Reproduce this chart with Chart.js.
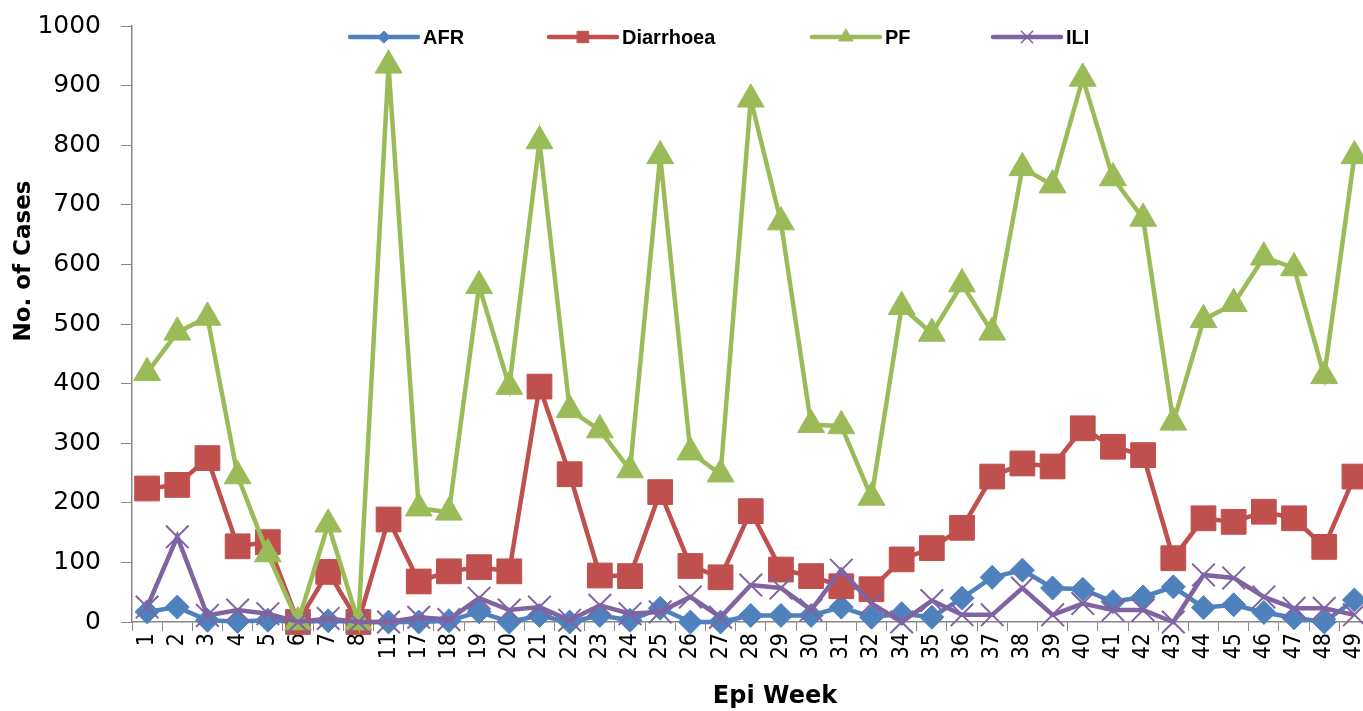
<!DOCTYPE html>
<html>
<head>
<meta charset="utf-8">
<title>Epi Week cases</title>
<script src="https://cdn.jsdelivr.net/npm/chart.js@4.4.0/dist/chart.umd.min.js"></script>
<style>
  html, body { margin: 0; padding: 0; background: #fff; overflow: hidden; }
  #wrap { position: absolute; left: 0; top: 0; width: 1388px; height: 711px; }
</style>
</head>
<body>
<div id="wrap"><canvas id="chart" width="1388" height="711"></canvas></div>
<script>
// Epi weeks shown on the x axis (some weeks are missing in the source)
const weeks = ['1', '2', '3', '4', '5', '6', '7', '8', '11', '17', '18', '19', '20', '21', '22', '23', '24', '25', '26', '27', '28',
  '29', '30', '31', '32', '34', '35', '36', '37', '38', '39', '40', '41', '42', '43', '44', '45', '46', '47', '48', '49'];

const afr = [17, 25, 3, 1, 3, 0, 2, 0, 0, 0, 2, 17, 0, 11, 0, 11, 3, 23, 0, 0, 11,
  11, 11, 25, 8, 14, 8, 40, 75, 87, 57, 55, 34, 42, 59, 24, 29, 16, 7, 0, 37];
const diarrhoea = [224, 230, 275, 127, 134, 0, 84, 0, 172, 68, 85, 92, 85, 395, 248, 78, 77, 218, 94, 75, 186,
  88, 77, 60, 55, 105, 124, 158, 244, 266, 261, 325, 294, 280, 107, 174, 168, 185, 174, 126, 244];
const pf = [418, 486, 511, 245, 114, 0, 164, 0, 934, 191, 184, 564, 395, 807, 356, 322, 255, 782, 285, 248, 877,
  671, 331, 329, 209, 529, 484, 567, 486, 762, 733, 912, 745, 677, 335, 507, 534, 612, 594, 413, 782];
const ili = [25, 143, 11, 20, 14, 0, 6, 0, 0, 8, 4, 40, 20, 25, 3, 28, 14, 17, 42, 8, 62,
  57, 20, 87, 31, 0, 36, 12, 12, 57, 12, 31, 20, 20, 0, 79, 74, 42, 23, 23, 12];

const yTickValues = [0, 100, 200, 300, 400, 500, 600, 700, 800, 900, 1000];

const AXIS_GREY = '#868686';

// small legend markers, Excel style (line with marker in the middle)
const legendMarkers = { AFR: 6, Diarrhoea: 8, PF: 8, ILI: 8 };
const legendStarts = [350, 549, 812, 993];

const excelDecor = {
  id: 'excelDecor',
  afterDraw(chart) {
    const ctx = chart.ctx;
    ctx.save();

    // legend, overlaid at the top of the plot
    const ly = 37;
    ctx.font = 'bold 20px "Liberation Sans"';
    ctx.textBaseline = 'middle';
    ctx.textAlign = 'left';
    chart.data.datasets.forEach((ds, i) => {
      const x0 = legendStarts[i];
      ctx.strokeStyle = ds.borderColor;
      ctx.lineWidth = 4.5;
      ctx.lineCap = 'round';
      ctx.beginPath();
      ctx.moveTo(x0, ly);
      ctx.lineTo(x0 + 68, ly);
      ctx.stroke();

      ctx.fillStyle = ds.pointBackgroundColor;
      ctx.strokeStyle = ds.pointBorderColor;
      ctx.lineWidth = ds.pointStyle === 'crossRot' ? 1.5 : 1;
      Chart.helpers.drawPoint(ctx, {
        pointStyle: ds.pointStyle,
        radius: legendMarkers[ds.label],
        rotation: 0,
        borderWidth: 1
      }, x0 + 34, ly);

      ctx.fillStyle = '#000';
      ctx.fillText(ds.label, x0 + 73, ly + 1);
    });

    // axis titles
    ctx.fillStyle = '#000';
    ctx.textAlign = 'center';
    ctx.font = 'bold 24px "DejaVu Sans"';
    ctx.fillText('Epi Week', 775, 697);

    ctx.translate(24, 261);
    ctx.rotate(-Math.PI / 2);
    ctx.font = 'bold 23px "DejaVu Sans"';
    ctx.fillText('No. of Cases', 0, 0);

    ctx.restore();
  }
};

function series(label, data, color, style, radius, order) {
  return {
    label: label,
    data: data,
    borderColor: color,
    backgroundColor: color,
    pointBackgroundColor: color,
    pointBorderColor: color,
    pointStyle: style,
    pointRadius: radius,
    pointHoverRadius: radius,
    pointBorderWidth: style === 'crossRot' ? 2 : 1,
    borderWidth: 4.5,
    tension: 0,
    fill: false,
    clip: false,
    order: order // later series in Excel sit on top
  };
}

const ctx = document.getElementById('chart').getContext('2d');

new Chart(ctx, {
  type: 'line',
  data: {
    labels: weeks,
    datasets: [
      series('AFR', afr, '#4F81BD', 'rectRot', 12, 4),
      series('Diarrhoea', diarrhoea, '#C0504D', 'rect', 17.5, 3),
      series('PF', pf, '#9BBB59', 'triangle', 15.5, 2),
      series('ILI', ili, '#8064A2', 'crossRot', 16, 1)
    ]
  },
  options: {
    responsive: false,
    animation: false,
    layout: {
      padding: { top: 26, right: 0, bottom: 0, left: 0 }
    },
    scales: {
      x: {
        offset: true,
        grid: {
          display: true,
          drawOnChartArea: false,
          offset: true,
          color: AXIS_GREY,
          tickLength: 9
        },
        border: { color: AXIS_GREY, width: 1.5 },
        ticks: {
          autoSkip: false,
          minRotation: 90,
          maxRotation: 90,
          padding: 2,
          color: '#000',
          font: { family: '"DejaVu Sans Condensed", "DejaVu Sans"', size: 23 }
        },
        afterFit(scale) {
          scale.height = 89;
          scale.paddingLeft = 0;
          scale.paddingRight = 0;
        }
      },
      y: {
        min: 0,
        max: 1000,
        grid: {
          drawOnChartArea: false,
          color: AXIS_GREY,
          tickLength: 11
        },
        border: { color: AXIS_GREY, width: 1.5 },
        ticks: {
          padding: 20,
          color: '#000',
          font: { family: '"DejaVu Sans"', size: 25 },
          callback: value => String(value)
        },
        afterBuildTicks(scale) {
          scale.ticks = yTickValues.map(v => ({ value: v }));
        },
        afterFit(scale) {
          scale.width = 132;
          scale.paddingTop = 0;
          scale.paddingBottom = 0;
        }
      }
    },
    plugins: {
      legend: { display: false },
      tooltip: { enabled: false }
    }
  },
  plugins: [excelDecor]
});
</script>
</body>
</html>
